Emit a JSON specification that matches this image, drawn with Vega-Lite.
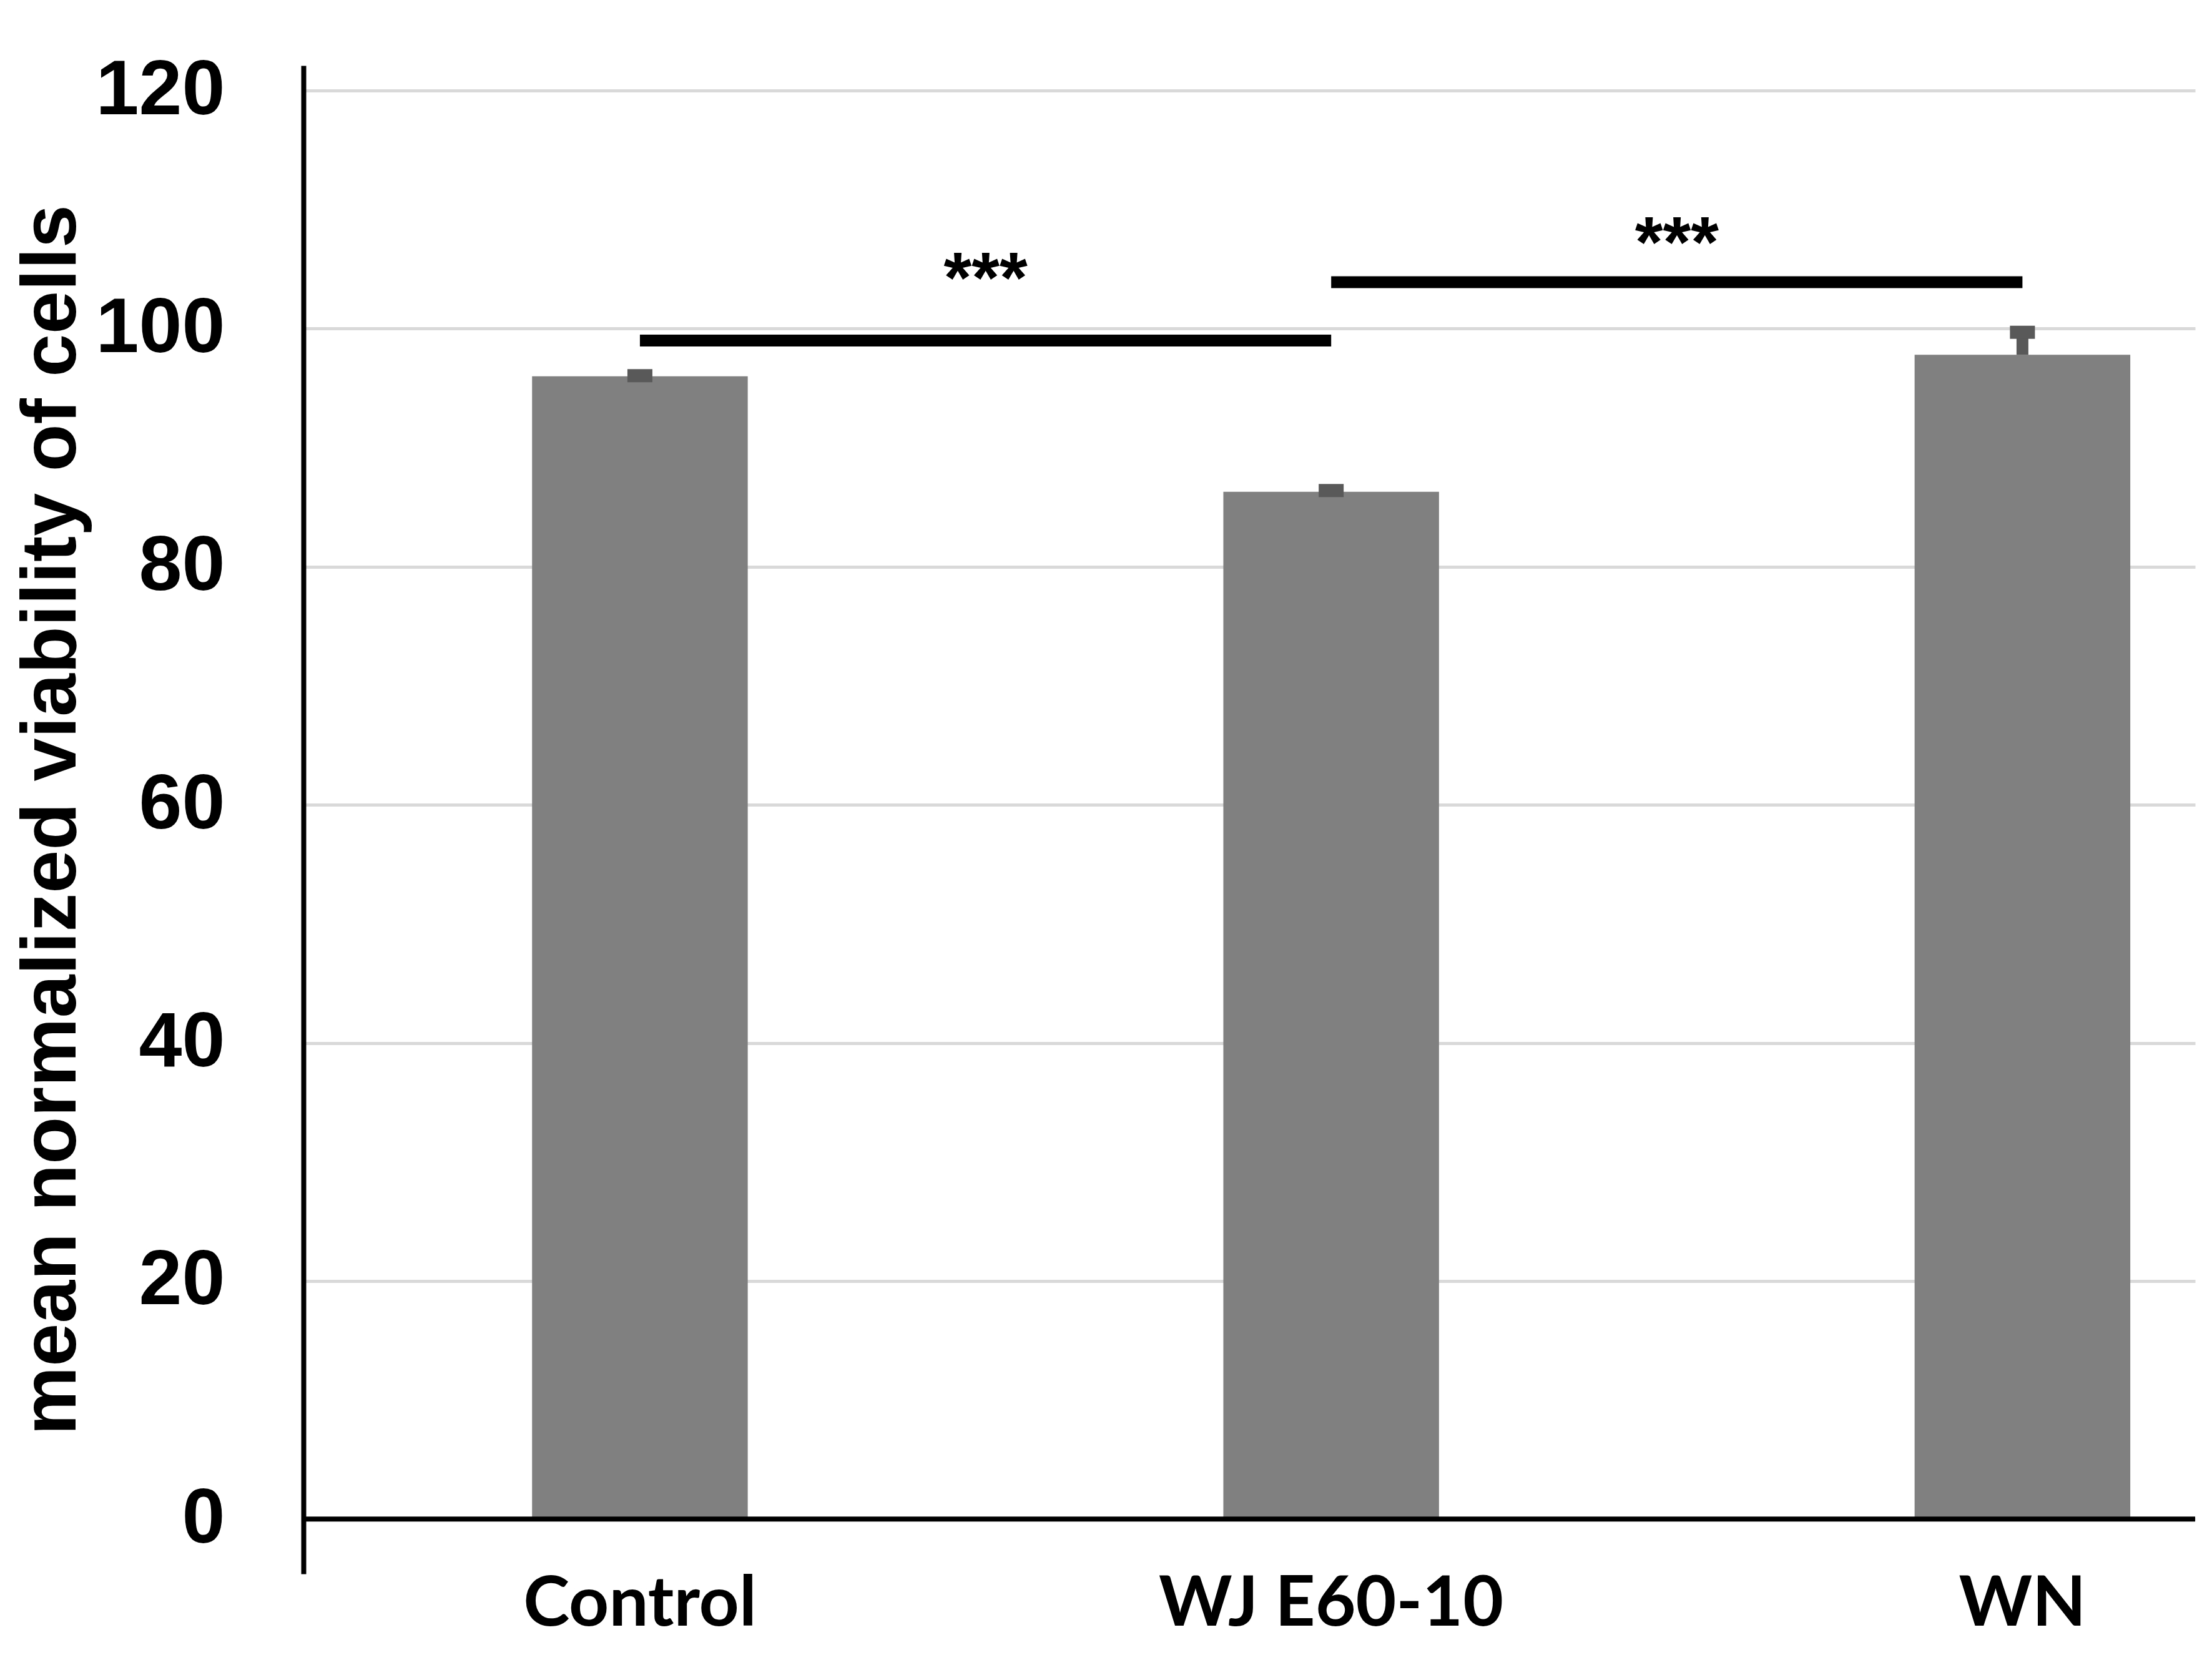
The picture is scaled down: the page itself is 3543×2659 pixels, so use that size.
{
  "$schema": "https://vega.github.io/schema/vega-lite/v6.json",
  "width": 3030,
  "height": 2416,
  "autosize": {"type": "none"},
  "padding": {"left": 486, "top": 105, "right": 27, "bottom": 138},
  "background": "white",
  "config": {"view": {"stroke": null}},
  "datasets": {
    "bars": [
      {"group": "Control", "mean": 96.0, "upper": 96.05},
      {"group": "WJ E60-10", "mean": 86.3, "upper": 86.4},
      {"group": "WN", "mean": 97.8, "upper": 99.7}
    ],
    "sig": [
      {"from": "Control", "to": "WJ E60-10", "y": 99.0, "ly": 102.2, "label": "***"},
      {"from": "WJ E60-10", "to": "WN", "y": 103.9, "ly": 105.2, "label": "***"}
    ]
  },
  "layer": [
    {
      "data": {"name": "bars"},
      "mark": {"type": "bar", "color": "#808080"},
      "encoding": {
        "x": {
          "field": "group",
          "type": "nominal",
          "scale": {"domain": ["Control", "WJ E60-10", "WN"], "paddingInner": 0.688, "paddingOuter": 0.2123, "align": 0.779},
          "axis": {
            "title": null,
            "domain": false,
            "ticks": false,
            "labelAngle": 0,
            "labelLimit": 2000,
            "labelFont": "Lato",
            "labelFontWeight": "bold",
            "labelFontSize": 112,
            "labelColor": "black",
            "labelPadding": -6
          }
        },
        "y": {
          "field": "mean",
          "type": "quantitative",
          "scale": {"domain": [-4.6, 122.1], "nice": false, "zero": false},
          "axis": {
            "title": "mean normalized viability of cells",
            "titleFont": "Liberation Sans",
            "titleFontWeight": "bold",
            "titleFontSize": 124,
            "titleColor": "black",
            "titlePadding": 140,
            "titleLimit": 4000,
            "values": [0, 20, 40, 60, 80, 100, 120],
            "domainColor": "black",
            "domainWidth": 8,
            "ticks": false,
            "grid": true,
            "gridColor": "#d9d9d9",
            "gridWidth": 5,
            "labelLimit": 2000,
            "labelFont": "Liberation Sans",
            "labelFontWeight": "bold",
            "labelFontSize": 124,
            "labelColor": "black",
            "labelPadding": 126
          }
        },
        "y2": {"datum": 0}
      }
    },
    {
      "data": {"name": "bars"},
      "mark": {"type": "rule", "color": "#595959", "strokeWidth": 19},
      "encoding": {
        "x": {"field": "group", "type": "nominal"},
        "y": {"field": "mean", "type": "quantitative"},
        "y2": {"field": "upper"}
      }
    },
    {
      "data": {"name": "bars"},
      "mark": {"type": "tick", "color": "#595959", "size": 40, "thickness": 21, "opacity": 1},
      "encoding": {
        "x": {"field": "group", "type": "nominal"},
        "y": {"field": "upper", "type": "quantitative"}
      }
    },
    {
      "data": {"values": [{}]},
      "mark": {"type": "rule", "color": "black", "strokeWidth": 8},
      "encoding": {"y": {"datum": 0}}
    },
    {
      "data": {"name": "sig"},
      "mark": {"type": "rule", "color": "black", "strokeWidth": 19},
      "encoding": {
        "x": {"field": "from", "type": "nominal", "bandPosition": 0.5},
        "x2": {"field": "to", "bandPosition": 0.5},
        "y": {"field": "y", "type": "quantitative"}
      }
    },
    {
      "data": {"name": "sig"},
      "mark": {"type": "text", "font": "Liberation Sans", "fontWeight": "bold", "fontSize": 115, "color": "black", "baseline": "alphabetic", "align": "center"},
      "encoding": {
        "x": {"field": "from", "type": "nominal", "bandPosition": 2.103},
        "y": {"field": "ly", "type": "quantitative"},
        "text": {"field": "label"}
      }
    }
  ]
}
